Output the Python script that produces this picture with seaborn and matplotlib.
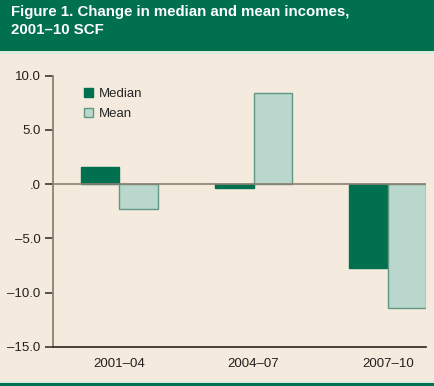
import matplotlib
matplotlib.use("Agg")
import matplotlib.pyplot as plt
from matplotlib.patches import Rectangle, Patch
import seaborn as sns
import pandas as pd

periods = ["2001–04", "2004–07", "2007–10"]
median_vals = [1.6, -0.4, -7.7]
mean_vals = [-2.3, 8.4, -11.4]
series = ["Median", "Mean"]
yticks = [10, 5, 0, -5, -10, -15]
ytick_labels = ["10.0", "5.0", ".0", "–5.0", "–10.0", "–15.0"]

BG = "#F4EADD"
GREEN = "#00704F"
LIGHT = "#B9D7CC"
LIGHT_EDGE = "#5F9883"

df = pd.DataFrame({
    "period": periods * 2,
    "series": [series[0]] * 3 + [series[1]] * 3,
    "value": median_vals + mean_vals,
})

sns.set_theme(style="white")
plt.rcParams["font.family"] = ["Liberation Sans", "DejaVu Sans"]

W, H = 434, 386
fig = plt.figure(figsize=(W / 100, H / 100), dpi=100, facecolor=BG)

# banner
fig.patches.append(Rectangle((0, 1 - 51 / H), 1, 51 / H, transform=fig.transFigure,
                             facecolor=GREEN, edgecolor="none", zorder=0))
fig.patches.append(Rectangle((0, 1 - 53.5 / H), 1, 2.5 / H, transform=fig.transFigure,
                             facecolor="#DCE9DF", edgecolor="none", zorder=0))
fig.patches.append(Rectangle((0, 0), 1, 3.5 / H, transform=fig.transFigure,
                             facecolor=GREEN, edgecolor="none", zorder=0))
fig.patches.append(Rectangle((0, 3.5 / H), 1, 2 / H, transform=fig.transFigure,
                             facecolor="#DCE9DF", edgecolor="none", zorder=0))
fig.text(11 / W, 1 - 5 / H, "Figure 1. Change in median and mean incomes,\n2001–10 SCF",
         color="white", fontsize=10.8, fontweight="bold", va="top", ha="left",
         linespacing=1.4)

ax = fig.add_axes([53 / W, 1 - 346.7 / H, (426 - 53) / W, (346.7 - 75.7) / H])
ax.set_facecolor(BG)

sns.barplot(data=df, x="period", y="value", hue="series", order=periods,
            hue_order=series, palette=[GREEN, LIGHT], saturation=1, width=0.57, ax=ax,
            errorbar=None, legend=False, zorder=2)
for bar, s in zip(ax.patches, [0] * 3 + [1] * 3):
    bar.set_edgecolor(GREEN if s == 0 else LIGHT_EDGE)
    bar.set_linewidth(1.0)

ax.set_ylim(-15, 10)
ax.set_xlim(-0.494, 2.285)
ax.axhline(0, color="#8C8070", lw=1.2, zorder=3)
ax.set_yticks(yticks)
ax.set_yticklabels(ytick_labels)
ax.set_xlabel("")
ax.set_ylabel("")
for s in ["top", "right"]:
    ax.spines[s].set_visible(False)
ax.spines["left"].set_color("#8C8070")
ax.spines["left"].set_linewidth(1.3)
ax.spines["bottom"].set_color("#2A2420")
ax.spines["bottom"].set_linewidth(1.2)
ax.tick_params(axis="y", length=6, width=1.2, color="#3A3530", labelsize=9.5,
               labelcolor="#231F1C", pad=3, left=True)
ax.tick_params(axis="x", length=0, labelsize=9.5, labelcolor="#231F1C", pad=8)

handles = [Patch(facecolor=GREEN, edgecolor=GREEN), Patch(facecolor=LIGHT, edgecolor=LIGHT_EDGE)]
fig.legend(handles, series, loc="upper left", bbox_to_anchor=(84 / W, 1 - 88 / H),
           bbox_transform=fig.transFigure, frameon=False, fontsize=9.5,
           handlelength=0.7, handleheight=0.7, handletextpad=0.4, labelspacing=0.6,
           borderpad=0, borderaxespad=0)

fig.savefig("out.png", dpi=100, facecolor=BG)
